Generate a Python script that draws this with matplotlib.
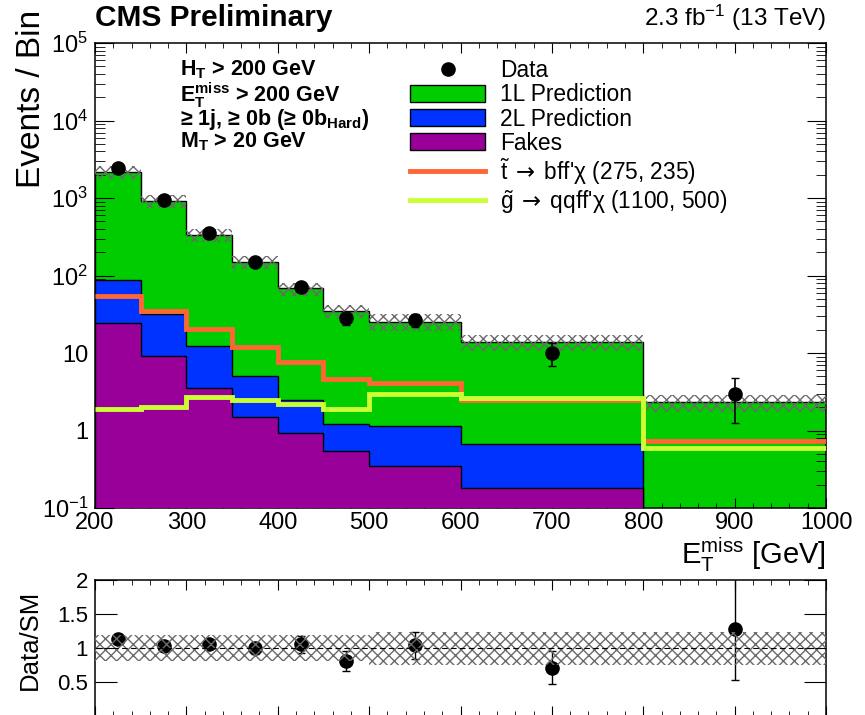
import numpy as np
import matplotlib
matplotlib.use("Agg")
import matplotlib.pyplot as plt
from matplotlib.ticker import MultipleLocator, LogLocator, NullFormatter, FixedLocator, FixedFormatter
from matplotlib.patches import Patch
from matplotlib.lines import Line2D

plt.rcParams['font.family'] = ['Liberation Sans', 'DejaVu Sans']
plt.rcParams['mathtext.fontset'] = 'custom'
plt.rcParams['mathtext.rm'] = 'Liberation Sans'
plt.rcParams['mathtext.it'] = 'Liberation Sans:italic'
plt.rcParams['mathtext.bf'] = 'Liberation Sans:bold'
plt.rcParams['mathtext.sf'] = 'DejaVu Sans'
plt.rcParams['hatch.linewidth'] = 1.0

# MET bins [GeV]
edges = np.array([200, 250, 300, 350, 400, 450, 500, 600, 800, 1000])

# background predictions (events / bin)
pred_1l = np.array([2062, 888, 322.7, 143.0, 65.5, 33.8, 24.3, 13.3, 2.3])
pred_2l = np.array([63.4, 22.8, 8.8, 3.5, 1.56, 0.65, 0.81, 0.48, 0.0])
fakes = np.array([24.6, 9.2, 3.5, 1.48, 0.94, 0.55, 0.35, 0.18, 0.0])
rel_unc = np.array([0.19, 0.19, 0.19, 0.19, 0.19, 0.19, 0.24, 0.24, 0.24])

# signals
sig_stop = np.array([54, 35, 20.5, 12.0, 7.6, 4.6, 4.1, 2.45, 0.74])
sig_gluino = np.array([1.87, 2.0, 2.7, 2.45, 2.2, 1.87, 2.95, 2.65, 0.6])

# data
data = np.array([2430, 948, 358, 148, 72, 28.4, 26.5, 9.9, 2.94])
data_err_lo = np.array([49, 31, 19, 12, 8.5, 5.3, 5.0, 3.2, 1.7])
data_err_hi = np.array([49, 31, 19, 12, 8.5, 5.3, 5.0, 3.4, 1.8])

c_1l = '#00cc00'
c_2l = '#0033ff'
c_fk = '#990099'
c_stop = '#ff6633'
c_glu = '#ccff33'
hatch_col = '#6a6a6a'

total = pred_1l + pred_2l + fakes
lower = pred_2l + fakes
centers = 0.5 * (edges[1:] + edges[:-1])
floor = 1e-3

fig = plt.figure(figsize=(8.65, 7.15), dpi=100)
ax = fig.add_axes([95/865, 1-508/715, 731/865, 465/715])
rax = fig.add_axes([95/865, -0.002, 731/865, 135/715 + 0.002])

# stacked backgrounds
ax.stairs(total, edges, baseline=floor, fill=True, facecolor=c_1l, edgecolor='black', linewidth=1, zorder=1)
ax.stairs(np.maximum(lower, floor), edges, baseline=floor, fill=True, facecolor=c_2l, edgecolor='black', linewidth=1, zorder=2)
ax.stairs(np.maximum(fakes, floor), edges, baseline=floor, fill=True, facecolor=c_fk, edgecolor='black', linewidth=1, zorder=3)

# uncertainty band
ax.stairs(total*(1+rel_unc), edges, baseline=total*(1-rel_unc), fill=True, facecolor='none',
          edgecolor=hatch_col, hatch='xxx', linewidth=0, zorder=4)

# signals
ax.stairs(sig_stop, edges, baseline=None, color=c_stop, linewidth=3.5, zorder=5)
ax.stairs(sig_gluino, edges, baseline=None, color=c_glu, linewidth=3.5, zorder=5)

# data
ax.errorbar(centers, data, yerr=[data_err_lo, data_err_hi], fmt='o', color='black',
            ms=9.5, elinewidth=1.2, capsize=3, zorder=6)

ax.set_xlim(200, 1000)
ax.set_yscale('log')
ax.set_ylim(0.1, 1e5)
ax.xaxis.set_major_locator(MultipleLocator(100))
ax.xaxis.set_minor_locator(MultipleLocator(20))
ax.yaxis.set_major_locator(FixedLocator([0.1, 1, 10, 100, 1e3, 1e4, 1e5]))
ax.yaxis.set_major_formatter(FixedFormatter([r'$10^{-1}$', '1', '10', r'$10^{2}$', r'$10^{3}$', r'$10^{4}$', r'$10^{5}$']))
ax.yaxis.set_minor_locator(LogLocator(base=10, subs=np.arange(2, 10), numticks=20))
ax.yaxis.set_minor_formatter(NullFormatter())
ax.tick_params(which='both', direction='in', top=True, right=True, labelsize=17)
ax.tick_params(axis='x', which='major', length=7.5, pad=3)
ax.tick_params(axis='x', which='minor', length=3.8)
ax.tick_params(axis='y', which='major', length=13.5, pad=5)
ax.tick_params(axis='y', which='minor', length=7)
for s in ax.spines.values():
    s.set_linewidth(1.1)

# legend
handles = [Line2D([], [], marker='o', color='black', ms=9.5, lw=0),
           Patch(facecolor=c_1l, edgecolor='black'),
           Patch(facecolor=c_2l, edgecolor='black'),
           Patch(facecolor=c_fk, edgecolor='black'),
           Line2D([], [], color=c_stop, lw=3.5),
           Line2D([], [], color=c_glu, lw=3.5)]
labels = ['Data', '1L Prediction', '2L Prediction', 'Fakes',
          r"$\tilde{\mathrm{t}}\;\mathsf{\rightarrow}\;$bff'χ (275, 235)",
          r"$\tilde{\mathrm{g}}\;\mathsf{\rightarrow}\;$qqff'χ (1100, 500)"]
ax.legend(handles, labels, loc='upper left', bbox_to_anchor=(0.431, 0.965), frameon=False,
          fontsize=16.4, handlelength=3.3, handleheight=0.8, handletextpad=0.65,
          labelspacing=0.05, borderpad=0, borderaxespad=0)

# selection text
cuts = [r'$\mathbf{H_T}$ > 200 GeV',
        r'$\mathbf{E_T^{miss}}$ > 200 GeV',
        r'≥ 1j, ≥ 0b (≥ 0b$_\mathbf{Hard}$)',
        r'$\mathbf{M_T}$ > 20 GeV']
cut_y = [0.942, 0.888, 0.836, 0.787]
for t, y in zip(cuts, cut_y):
    ax.text(0.116, y, t, transform=ax.transAxes, fontsize=15.5, fontweight='bold', va='center', ha='left')

ax.text(1.0, -0.101, r'$\mathrm{E}_\mathrm{T}^\mathrm{miss}$ [GeV]', transform=ax.transAxes,
        fontsize=21, ha='right', va='center')
fig.text(32/865, 1-10/715, 'Events / Bin', rotation=90, ha='center', va='top', fontsize=24)
fig.text(95/865, 1-18/715, 'CMS Preliminary', ha='left', va='center', fontsize=21.5, fontweight='bold')
fig.text(826/865, 1-18/715, r'2.3 fb$^{-1}$ (13 TeV)', ha='right', va='center', fontsize=17.5)

# ratio panel
ratio = data / total
r_lo = data_err_lo / total
r_hi = data_err_hi / total
rax.errorbar(centers, ratio, yerr=[r_lo, r_hi], fmt='o', color='black', ms=9.5,
             elinewidth=1.0, capsize=3, zorder=2)
rax.stairs(1+rel_unc, edges, baseline=1-rel_unc, fill=True, facecolor='none',
           edgecolor=hatch_col, hatch='xxx', linewidth=0, zorder=3)
rax.axhline(1, color='black', ls=(0, (5, 3)), lw=0.8, zorder=4)
rax.set_xlim(200, 1000)
rax.set_ylim(0, 2)
rax.xaxis.set_major_locator(MultipleLocator(100))
rax.xaxis.set_minor_locator(MultipleLocator(20))
rax.set_yticks([0.5, 1, 1.5, 2])
rax.set_yticklabels(['0.5', '1', '1.5', '2'])
rax.tick_params(which='both', direction='in', top=True, right=True, labelbottom=False, labelsize=16)
rax.tick_params(axis='x', which='major', length=7.5)
rax.tick_params(axis='x', which='minor', length=3.8)
rax.tick_params(axis='y', which='major', length=16, pad=5)
for s in rax.spines.values():
    s.set_linewidth(1.1)
fig.text(30/865, 1-640/715, 'Data/SM', rotation=90, ha='center', va='center', fontsize=18.5)

fig.savefig('out.png', dpi=100)
